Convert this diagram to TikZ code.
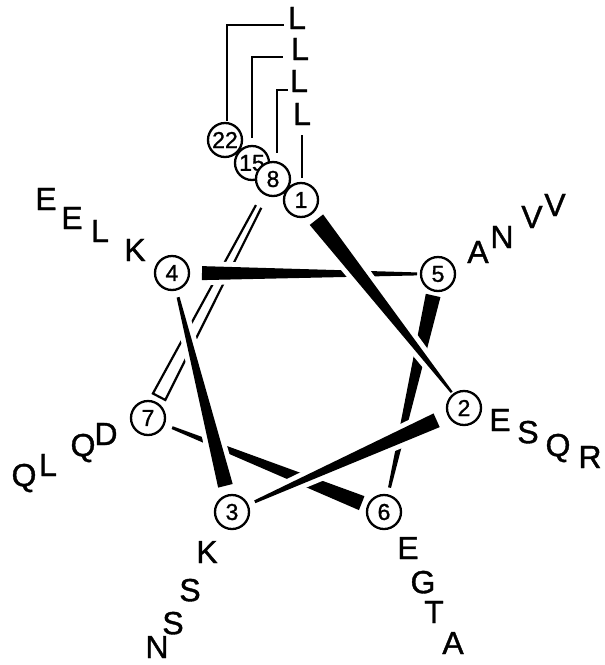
\documentclass[tikz,border=0pt]{standalone}
\usepackage{fontspec}
\setmainfont{Liberation Sans}
\newfontfamily\labfont{Liberation Sans}[FakeBold=1.2]
\usetikzlibrary{calc,backgrounds}
\tikzset{
  res/.style={circle, draw, line width=2.3pt, minimum size=34pt, inner sep=0pt, fill=white, font=\labfont\fontsize{23}{23}\selectfont},
  lab/.style={inner sep=0pt, text depth=0pt, font=\labfont\fontsize{32}{32}\selectfont},
  halo/.style={preaction={draw=white, line width=10pt, line join=round}},
  brk/.style={line width=2.2pt},
}
\newcommand\wheelwedge[6]{%
  \coordinate (ws) at ($(#1)!#3!(#2)$);
  \coordinate (we) at ($(#2)!#4!(#1)$);
  \fill[halo] ($(ws)!#5!90:(we)$) -- ($(we)!#6!-90:(ws)$) -- ($(we)!#6!90:(ws)$) -- ($(ws)!#5!-90:(we)$) -- cycle;
}
\begin{document}
\begin{tikzpicture}[x=1pt,y=-1pt]
\useasboundingbox (0,0) rectangle (605,665);
% residues
\node[res] (n22) at (225,140) {22};
\node[res] (n15) at (252,163) {15};
\node[res] (n8) at (273,179) {8};
\node[res] (n1) at (301,200) {1};
\node[res] (n4) at (172,273) {4};
\node[res] (n5) at (438,274) {5};
\node[res] (n2) at (464,408) {2};
\node[res] (n7) at (148,418) {7};
\node[res] (n3) at (232,512) {3};
\node[res] (n6) at (384,512) {6};
% top labels and brackets
\node[lab] (L1) at (297,18) {L};
\node[lab] (L2) at (300,49) {L};
\node[lab] (L3) at (299,81) {L};
\node[lab] (L4) at (302,114) {L};
\coordinate (t22) at (284,25);
\coordinate (t15) at (283,57);
\coordinate (t8) at (288,90);
\coordinate (t1) at (302,135);
\begin{pgfonlayer}{background}
\draw[brk] ([xshift=2pt,yshift=1pt]n22.north) |- (t22);
\draw[brk] ([yshift=7pt]n15.north) |- (t15);
\draw[brk] ([xshift=4pt,yshift=8pt]n8.north) |- (t8);
\draw[brk] ([xshift=1pt,yshift=4pt]n1.north) -- (t1);
% hollow wedge 7 -> 8
\coordinate (hs) at ($(n7)!24pt!(n8)$);
\coordinate (he) at ($(n8)!31pt!(n7)$);
\draw[line width=2.2pt, line join=miter] ($(he)!3pt!-90:(hs)$) -- ($(hs)!7pt!90:(he)$) -- ($(hs)!7pt!-90:(he)$) -- ($(he)!3pt!90:(hs)$);
\wheelwedge{n6}{n7}{24pt}{26pt}{7.5pt}{1.5pt}
\wheelwedge{n5}{n6}{22pt}{25pt}{7.5pt}{1.5pt}
\wheelwedge{n4}{n5}{30pt}{21pt}{7pt}{1.5pt}
\wheelwedge{n3}{n4}{27pt}{25pt}{7.5pt}{1.5pt}
\wheelwedge{n2}{n3}{30pt}{25pt}{7.5pt}{1.5pt}
\wheelwedge{n1}{n2}{25pt}{20pt}{8.5pt}{1.2pt}
\end{pgfonlayer}
% side labels
\node[lab] (a1) at (46,199) {E};
\node[lab] (a2) at (72,218) {E};
\node[lab] (a3) at (100,231) {L};
\node[lab] (a4) at (135,250) {K};
\node[lab] (b1) at (478,252) {A};
\node[lab] (b2) at (502,237) {N};
\node[lab] (b3) at (532,217) {V};
\node[lab] (b4) at (555,205) {V};
\node[lab] (c1) at (500,420) {E};
\node[lab] (c2) at (528,432) {S};
\node[lab] (c3) at (558,445) {Q};
\node[lab] (c4) at (590,457) {R};
\node[lab] (d1) at (24,475) {Q};
\node[lab] (d2) at (48,465) {L};
\node[lab] (d3) at (83,445) {Q};
\node[lab] (d4) at (106,434) {D};
\node[lab] (e1) at (207,552) {K};
\node[lab] (e2) at (190,590) {S};
\node[lab] (e3) at (173,623) {S};
\node[lab] (e4) at (157,647) {N};
\node[lab] (f1) at (408,548) {E};
\node[lab] (f2) at (423,582) {G};
\node[lab] (f3) at (434,612) {T};
\node[lab] (f4) at (453,643) {A};
\end{tikzpicture}
\end{document}
